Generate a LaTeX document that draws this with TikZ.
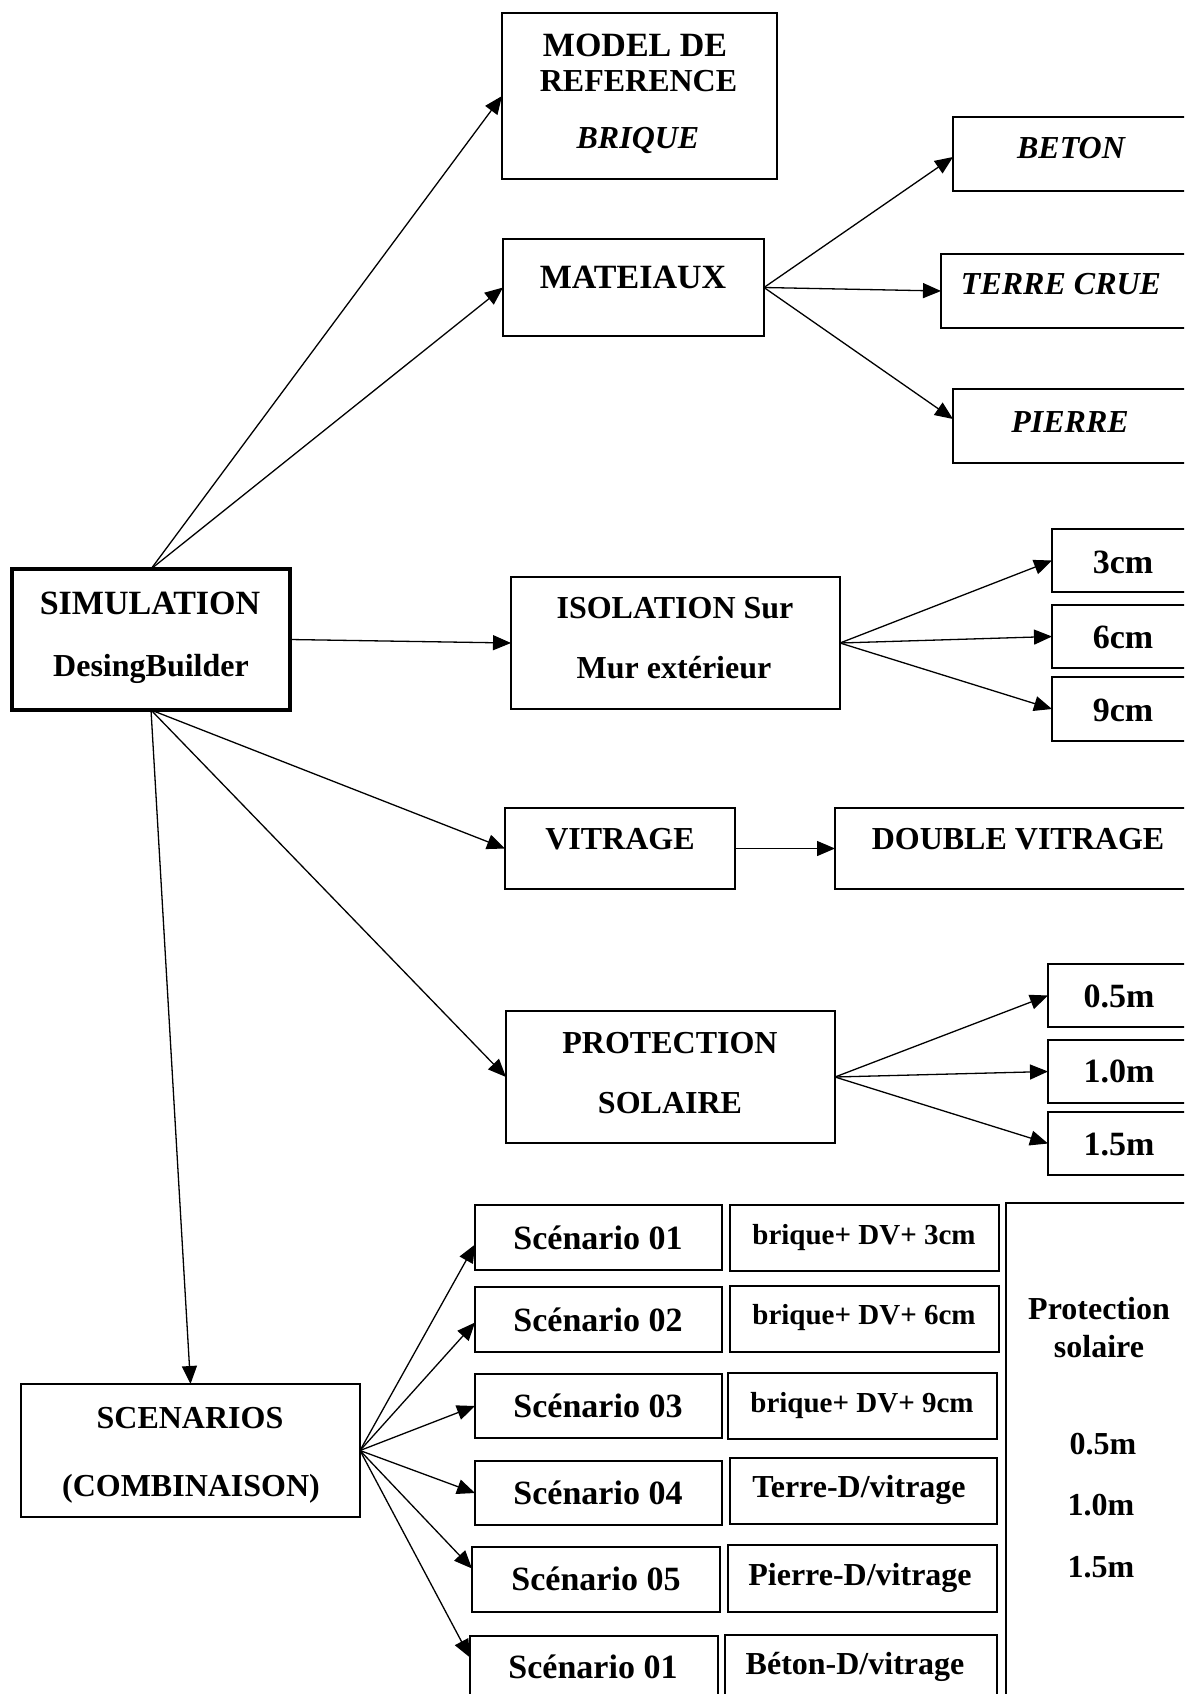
\documentclass[tikz,border=0pt]{standalone}
\usepackage{fontspec}
\setmainfont{Liberation Serif}
\usetikzlibrary{arrows.meta,calc}
\begin{document}
\begin{tikzpicture}[x=1pt,y=-1pt,
  box/.style={draw, line width=2pt, inner sep=0pt, outer sep=0pt},
  thickbox/.style={draw, line width=4.5pt, inner sep=0pt, outer sep=0pt},
  tb/.style={anchor=base, inner sep=0pt, font=\fontsize{32}{38}\selectfont\bfseries},
  tbl/.style={anchor=base, inner sep=0pt, font=\fontsize{34}{40}\selectfont\bfseries},
  tbi/.style={anchor=base, inner sep=0pt, font=\fontsize{32}{38}\selectfont\bfseries\itshape},
  tbs/.style={anchor=base, inner sep=0pt, font=\fontsize{29}{35}\selectfont\bfseries},
  arr/.style={-{Triangle[length=18pt,width=15pt]}, line width=1.3pt},
]
\useasboundingbox (0,0) rectangle (1184,1694);
\clip (0,0) rectangle (1184,1694);
\fill[white] (0,0) rectangle (1184,1694);

% ---- boxes ----
\node[box, minimum width=275pt, minimum height=166pt] (model) at (639.5,96) {};
\node[box, minimum width=261pt, minimum height=97pt] (mat) at (633.5,287.5) {};
\node[box, minimum width=242pt, minimum height=74pt] (beton) at (1074,154) {};
\node[box, minimum width=254pt, minimum height=74pt] (terre) at (1068,291) {};
\node[box, minimum width=242pt, minimum height=74pt] (pierre) at (1074,426) {};
\node[thickbox, minimum width=278pt, minimum height=141pt] (simu) at (151,639.5) {};
\node[box, minimum width=329pt, minimum height=132pt] (iso) at (675.5,643) {};
\node[box, minimum width=143pt, minimum height=63pt] (c3) at (1123.5,560.5) {};
\node[box, minimum width=143pt, minimum height=63pt] (c6) at (1123.5,636.5) {};
\node[box, minimum width=143pt, minimum height=64pt] (c9) at (1123.5,709) {};
\node[box, minimum width=230pt, minimum height=81pt] (vit) at (620,848.5) {};
\node[box, minimum width=375pt, minimum height=81pt] (dv) at (1022.5,848.5) {};
\node[box, minimum width=329pt, minimum height=132pt] (prot) at (670.5,1077) {};
\node[box, minimum width=147pt, minimum height=63pt] (m05) at (1121.5,995.5) {};
\node[box, minimum width=147pt, minimum height=63pt] (m10) at (1121.5,1071.5) {};
\node[box, minimum width=147pt, minimum height=63pt] (m15) at (1121.5,1143.5) {};
\node[box, minimum width=339pt, minimum height=133pt] (scen) at (190.5,1450.5) {};
\node[box, minimum width=247pt, minimum height=65pt] (sc1) at (598.5,1237.5) {};
\node[box, minimum width=247pt, minimum height=65pt] (sc2) at (598.5,1319.5) {};
\node[box, minimum width=247pt, minimum height=64pt] (sc3) at (598.5,1406) {};
\node[box, minimum width=247pt, minimum height=64pt] (sc4) at (598.5,1493) {};
\node[box, minimum width=248pt, minimum height=65pt] (sc5) at (596,1579.5) {};
\node[box, minimum width=248pt, minimum height=65pt] (sc6) at (594,1668.5) {};
\node[box, minimum width=269pt, minimum height=66pt] (d1) at (864.5,1238) {};
\node[box, minimum width=269pt, minimum height=66pt] (d2) at (864.5,1319) {};
\node[box, minimum width=269pt, minimum height=66pt] (d3) at (862.5,1406) {};
\node[box, minimum width=267pt, minimum height=66pt] (d4) at (863.5,1491) {};
\node[box, minimum width=269pt, minimum height=67pt] (d5) at (862.5,1578.5) {};
\node[box, minimum width=272pt, minimum height=67pt] (d6) at (861,1668.5) {};
\node[box, minimum width=194pt, minimum height=507pt] (psbox) at (1103,1456.5) {};

% ---- texts ----
\node[tbl] (modelA) at (635,57) {MODEL DE};
\node[tb] (modelB) at (638.5,91) {REFERENCE};
\node[tbi] (modelC) at (638,148) {BRIQUE};
\node[tbl] (matT) at (633,288) {MATEIAUX};
\node[tbi] (betonT) at (1071,158) {BETON};
\node[tbi] (terreT) at (1061,294) {TERRE CRUE};
\node[tbi] (pierreT) at (1070,432) {PIERRE};
\node[tbl] (simuA) at (150,614) {SIMULATION};
\node[tb] (simuB) at (151,676) {DesingBuilder};
\node[tb] (isoA) at (675,618) {ISOLATION Sur};
\node[tb] (isoB) at (674,678) {Mur extérieur};
\node[tbl] (c3T) at (1123,573) {3cm};
\node[tbl] (c6T) at (1123,648) {6cm};
\node[tbl] (c9T) at (1123,721) {9cm};
\node[tb] (vitT) at (620,849) {VITRAGE};
\node[tb] (dvT) at (1018,849) {DOUBLE VITRAGE};
\node[tb] (protA) at (670,1053) {PROTECTION};
\node[tb] (protB) at (670,1113) {SOLAIRE};
\node[tbl] (m05T) at (1119,1007) {0.5m};
\node[tbl] (m10T) at (1119,1082) {1.0m};
\node[tbl] (m15T) at (1119,1155) {1.5m};
\node[tb] (scenA) at (190,1428) {SCENARIOS};
\node[tb] (scenB) at (191,1496) {(COMBINAISON)};
\node[tbl] (sc1T) at (598,1249) {Scénario 01};
\node[tbl] (sc2T) at (598,1331) {Scénario 02};
\node[tbl] (sc3T) at (598,1417) {Scénario 03};
\node[tbl] (sc4T) at (598,1504) {Scénario 04};
\node[tbl] (sc5T) at (596,1590) {Scénario 05};
\node[tbl] (sc6T) at (593,1678) {Scénario 01};
\node[tbs] (d1T) at (864,1244) {brique+ DV+ 3cm};
\node[tbs] (d2T) at (864,1324) {brique+ DV+ 6cm};
\node[tbs] (d3T) at (862,1412) {brique+ DV+ 9cm};
\node[tb] (d4T) at (859,1497) {Terre-D/vitrage};
\node[tb] (d5T) at (860,1585) {Pierre-D/vitrage};
\node[tb] (d6T) at (855,1674) {Béton-D/vitrage};
\node[tb] (psA) at (1099,1319) {Protection};
\node[tb] (psB) at (1099,1357) {solaire};
\node[tb] (psC) at (1103,1454) {0.5m};
\node[tb] (psD) at (1101,1515) {1.0m};
\node[tb] (psE) at (1101,1577) {1.5m};

% ---- connectors ----
\draw[arr] (simu.north) -- (model.west);
\draw[arr] (simu.north) -- (mat.west);
\draw[arr] (simu.east) -- (iso.west);
\draw[arr] (simu.south) -- (vit.west);
\draw[arr] (simu.south) -- (prot.west);
\draw[arr] (simu.south) -- (scen.north);
\draw[arr] (mat.east) -- ([yshift=-3pt]beton.west);
\draw[arr] (mat.east) -- (terre.west);
\draw[arr] (mat.east) -- ([yshift=7pt]pierre.west);
\draw[arr] (iso.east) -- (c3.west);
\draw[arr] (iso.east) -- (c6.west);
\draw[arr] (iso.east) -- (c9.west);
\draw[arr] (vit.east) -- (dv.west);
\draw[arr] (prot.east) -- (m05.west);
\draw[arr] (prot.east) -- (m10.west);
\draw[arr] (prot.east) -- (m15.west);
\draw[arr] (scen.east) -- ([yshift=-7pt]sc1.west);
\draw[arr] (scen.east) -- ([yshift=-3pt]sc2.west);
\draw[arr] (scen.east) -- (sc3.west);
\draw[arr] (scen.east) -- (sc4.west);
\draw[arr] (scen.east) -- ([yshift=11pt]sc5.west);
\draw[arr] (scen.east) -- ([yshift=11pt]sc6.west);
\end{tikzpicture}
\end{document}
